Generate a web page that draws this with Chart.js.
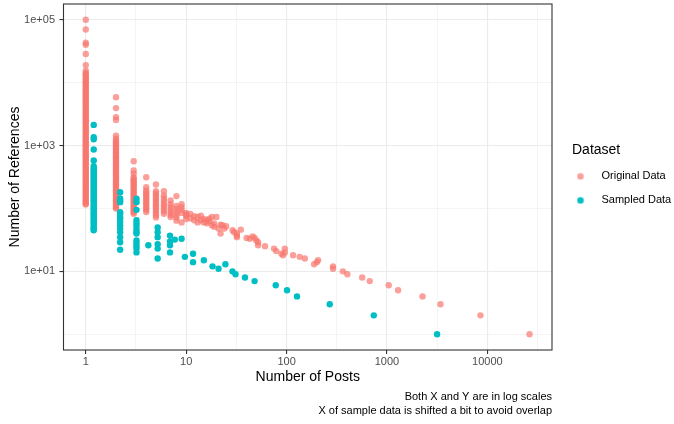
<!DOCTYPE html>
<html>
<head>
<meta charset="utf-8">
<script src="https://cdn.jsdelivr.net/npm/chart.js@4.4.1/dist/chart.umd.min.js"></script>
<style>
  body { margin: 0; background: #fff; }
  #box { width: 674px; height: 424px; }
</style>
</head>
<body>
<div id="box"><canvas id="postsChart" width="674" height="424"></canvas></div>
<script>
// Original data: posts 1..10 carry whole columns of reference counts
const origColumnPosts = [1, 2, 3, 4, 5, 6, 7, 8, 9, 10];
const origColumnRefs = [
    [100000, 70000, 43000, 40000, 28500, 19000, 15500, 14200, 13500, 12800, 12000, 11300, 10700, 10100,
     9600, 9100, 8600, 8100, 7700, 7300, 6900, 6500, 6150, 5800, 5500, 5200, 4900, 4650, 4400, 4150,
     3950, 3700, 3500, 3320, 3150, 2980, 2820, 2660, 2520, 2390, 2260, 2140, 2020, 1910, 1810, 1710,
     1620, 1530, 1450, 1370, 1300, 1230, 1160, 1100, 1040, 985, 930, 880, 835, 790, 745, 705, 668,
     632, 598, 566, 535, 506, 479, 453, 429, 406, 384, 363, 344, 325, 308, 291, 275, 261, 247, 233,
     221, 209, 198, 187, 177, 167, 158, 150, 142, 134, 127, 120, 116],
    [5850, 3940, 2830, 2540, 1440, 1290, 1200, 1130, 1070, 1010, 950, 900, 850, 800, 760, 715, 675,
     640, 605, 570, 540, 510, 480, 455, 430, 405, 385, 362, 342, 323, 305, 288, 272, 257, 243, 230,
     217, 205, 194, 183, 173, 163, 154, 146, 138, 130, 123, 116, 110, 104, 100],
    [563, 400, 358, 314, 295, 278, 262, 247, 232, 218, 205, 193, 182, 171, 161, 151, 142, 134, 126,
     118, 111, 104, 98, 92, 87, 82],
    [314, 218, 193, 180, 168, 157, 146, 136, 127, 118, 110, 102, 95, 88],
    [240, 188, 173, 160, 148, 137, 127, 117, 108, 100, 92, 85, 78, 72],
    [188, 160, 145, 130, 118, 108, 98, 90, 82],
    [134, 117, 105, 95, 86, 79, 73],
    [157, 110, 98, 88, 79, 71, 64],
    [117, 105, 95, 85, 60],
    [85, 80, 76, 68]
];
// Original data beyond 10 posts: [posts, references]
const origTail = [
    [11, 82], [11, 70], [12, 65], [12, 75], [13, 73], [13, 60], [14, 77], [14, 65], [15, 60], [15, 68],
    [16, 65], [16, 58], [17, 69], [17, 62], [18, 73], [18, 54], [19, 51], [19, 58], [20, 73], [21, 48],
    [22, 40], [22, 55], [23, 54], [24, 48], [25, 52], [29, 45], [30, 42], [32, 37], [32, 40], [32, 35],
    [35, 46], [40, 34], [43, 33], [46, 36], [48, 34], [50, 31], [52, 29], [52, 26], [61, 25], [75, 23],
    [79, 21], [89, 19], [92, 18], [96, 23], [96, 20], [116, 18], [135, 17], [152, 16], [188, 13],
    [200, 14], [206, 15], [290, 12], [290, 11], [364, 10], [403, 9], [566, 8], [673, 7], [1040, 6],
    [1290, 5], [2260, 4], [3410, 3], [8530, 2], [26300, 1]
];

// Sampled data (x shifted a little to the right)
const sampColumnPosts = [1.2, 2.2, 3.2, 4.2, 5.2, 6.9];
const sampColumnRefs = [
    [2130, 1355, 1260, 865, 578, 469, 431, 405, 380, 357, 335, 315, 296, 278, 261, 245, 230, 216, 203,
     191, 179, 168, 158, 148, 139, 131, 123, 115, 108, 101, 95, 89, 84, 79, 74, 69, 65, 61, 57, 53,
     50, 47, 45],
    [181, 144, 134, 126, 87, 82, 73, 69, 61, 54, 48, 42, 35, 29, 22],
    [143, 126, 95, 65, 58, 52, 46, 42, 40, 31, 28, 25, 23, 20],
    [26],
    [50, 42, 35, 27, 23, 16],
    [37, 30, 26, 20]
];
const sampTail = [
    [7.7, 32], [9.0, 33], [9.7, 17], [11.7, 19], [11.7, 14], [15, 15], [18.3, 12], [21, 11], [24.6, 13],
    [28.9, 10], [31, 9], [38.5, 8], [48, 7], [78, 6], [101, 5], [127, 4], [269, 3], [739, 2], [3155, 1]
];

// Axis breaks
const xMajorTicks = [1, 10, 100, 1000, 10000];
const xMinorTicks = [3.162, 31.62, 316.2, 3162, 31623];
const yMajorTicks = [10, 1000, 100000];
const yMajorLabels = ['1e+01', '1e+03', '1e+05'];
const yMinorTicks = [1, 100, 10000];
const captionLines = ['Both X and Y are in log scales', 'X of sample data is shifted a bit to avoid overlap'];

const origPoints = [];
origColumnPosts.forEach((posts, i) => origColumnRefs[i].forEach(refs => origPoints.push({ x: posts, y: refs })));
origTail.forEach(([posts, refs]) => origPoints.push({ x: posts, y: refs }));

const sampPoints = [];
sampColumnPosts.forEach((posts, i) => sampColumnRefs[i].forEach(refs => sampPoints.push({ x: posts, y: refs })));
sampTail.forEach(([posts, refs]) => sampPoints.push({ x: posts, y: refs }));

Chart.defaults.font.family = '"Liberation Sans", Arial, Helvetica, sans-serif';

// legend key: a dot drawn left of the item box centre, so the text sits further away
function legendDot(colour) {
    const c = document.createElement('canvas');
    c.width = 28;
    c.height = 8;
    const g = c.getContext('2d');
    g.fillStyle = colour;
    g.beginPath();
    g.arc(4, 4, 3.3, 0, Math.PI * 2);
    g.fill();
    return c;
}

// ggplot style panel border
const panelBorder = {
    id: 'panelBorder',
    afterDatasetsDraw(chart) {
        const { ctx, chartArea: a } = chart;
        ctx.save();
        ctx.strokeStyle = '#333333';
        ctx.lineWidth = 1.1;
        ctx.strokeRect(a.left, a.top, a.right - a.left, a.bottom - a.top);
        ctx.restore();
    }
};

const isXMajor = (c) => c.tick && xMajorTicks.includes(c.tick.value);
const isYMajor = (c) => c.tick && yMajorTicks.includes(c.tick.value);

const chart = document.getElementById('postsChart').getContext('2d');
const postsChart = new Chart(chart, {
    type: 'scatter',
    data: {
        datasets: [{
            label: 'Original Data',
            data: origPoints,
            backgroundColor: 'rgba(248, 118, 109, 0.7)',
            borderWidth: 0,
            pointRadius: 3.2,
            order: 2,
            xAxisID: 'x',
            yAxisID: 'y'
        }, {
            label: 'Sampled Data',
            data: sampPoints,
            backgroundColor: '#00BFC4',
            borderWidth: 0,
            pointRadius: 3.2,
            order: 1,
            xAxisID: 'x',
            yAxisID: 'y'
        }]
    },
    options: {
        responsive: false,
        animation: false,
        events: [],
        layout: { padding: { left: 2, top: 3.3, right: 0, bottom: 0 } },
        scales: {
            x: {
                type: 'logarithmic',
                position: 'bottom',
                min: 0.6,
                max: 44000,
                afterBuildTicks: (s) => { s.ticks = xMajorTicks.concat(xMinorTicks).map(v => ({ value: v })); },
                afterFit: (s) => { s.height = 36; s.paddingLeft = 0; s.paddingRight = 0; },
                ticks: {
                    autoSkip: false,
                    maxRotation: 0,
                    padding: 1,
                    color: '#4D4D4D',
                    font: { size: 11 },
                    callback: (v) => xMajorTicks.includes(v) ? String(v) : ''
                },
                grid: {
                    color: '#EBEBEB',
                    lineWidth: (c) => isXMajor(c) ? 1.1 : 0.55,
                    tickLength: 4,
                    tickWidth: 1.1,
                    tickColor: (c) => isXMajor(c) ? '#333333' : 'rgba(0,0,0,0)'
                },
                border: { display: false },
                title: { display: true, text: 'Number of Posts', color: '#000', font: { size: 14 }, padding: { top: 0, bottom: 0 } }
            },
            y: {
                type: 'logarithmic',
                position: 'left',
                min: 0.562,
                max: 177800,
                afterBuildTicks: (s) => { s.ticks = yMajorTicks.concat(yMinorTicks).map(v => ({ value: v })); },
                afterFit: (s) => { s.width = 61.5; s.paddingTop = 0; s.paddingBottom = 0; },
                ticks: {
                    autoSkip: false,
                    padding: 4.5,
                    color: '#4D4D4D',
                    font: { size: 11 },
                    callback: (v) => {
                        const i = yMajorTicks.indexOf(v);
                        return i >= 0 ? yMajorLabels[i] : '';
                    }
                },
                grid: {
                    color: '#EBEBEB',
                    lineWidth: (c) => isYMajor(c) ? 1.1 : 0.55,
                    tickLength: 4,
                    tickWidth: 1.1,
                    tickColor: (c) => isYMajor(c) ? '#333333' : 'rgba(0,0,0,0)'
                },
                border: { display: false },
                title: { display: true, text: 'Number of References', color: '#000', font: { size: 14 }, padding: { top: 4.6, bottom: 0 } }
            },
            // empty axis that only holds the space between panel and legend
            legendGap: {
                type: 'linear',
                position: 'right',
                grid: { display: false },
                ticks: { display: false },
                border: { display: false },
                afterFit: (s) => { s.width = 20; }
            }
        },
        plugins: {
            tooltip: { enabled: false },
            title: {
                display: true,
                position: 'bottom',
                align: 'end',
                fullSize: false,
                text: captionLines,
                color: '#000',
                font: { size: 11, weight: 'normal', lineHeight: 1.227 },
                padding: { top: 4.25, bottom: 6.75 }
            },
            legend: {
                position: 'right',
                align: 'center',
                fullSize: false,
                maxWidth: 102,
                title: {
                    display: true,
                    text: 'Dataset',
                    color: '#000',
                    position: 'start',
                    font: { size: 14 },
                    padding: { top: 8, bottom: -2 }
                },
                labels: {
                    color: '#000',
                    font: { size: 11 },
                    padding: 13,
                    boxWidth: 11,
                    usePointStyle: true,
                    sort: (a, b) => a.datasetIndex - b.datasetIndex,
                    generateLabels: (ch) => Chart.defaults.plugins.legend.labels.generateLabels(ch).map(item => ({
                        ...item,
                        pointStyle: legendDot(ch.data.datasets[item.datasetIndex].backgroundColor)
                    }))
                }
            }
        }
    },
    plugins: [panelBorder]
});
</script>
</body>
</html>
